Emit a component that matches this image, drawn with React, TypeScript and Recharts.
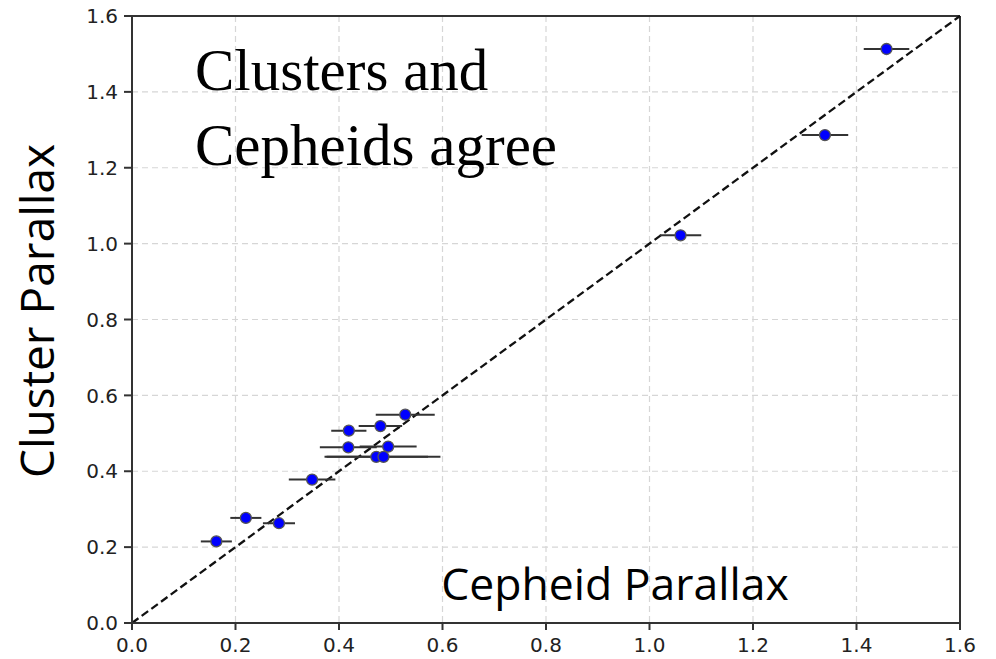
import React from 'react';
import {
  ScatterChart,
  Scatter,
  XAxis,
  YAxis,
  CartesianGrid,
  ReferenceLine,
  ErrorBar,
} from 'recharts';

const cepheidParallax = [0.163, 0.22, 0.284, 0.348, 0.419, 0.48, 0.528, 0.418, 0.495, 0.472, 0.486, 1.06, 1.339, 1.458];
const clusterParallax = [0.215, 0.277, 0.263, 0.378, 0.507, 0.519, 0.549, 0.463, 0.465, 0.438, 0.438, 1.022, 1.286, 1.513];
const cepheidError = [0.03, 0.03, 0.031, 0.045, 0.034, 0.042, 0.057, 0.055, 0.055, 0.1, 0.11, 0.04, 0.045, 0.044];
const axisTicks = [0, 0.2, 0.4, 0.6, 0.8, 1.0, 1.2, 1.4, 1.6];

const data = cepheidParallax.map((x, i) => ({ x, y: clusterParallax[i], err: cepheidError[i] }));

const Dot = (props: any) => {
  const { cx, cy } = props;
  if (cx == null || cy == null) return null;
  return <circle cx={cx} cy={cy} r={5.5} fill="#0000ff" stroke="#555" strokeWidth={1.3} />;
};

const XTick = (props: any) => {
  const { x, y, payload } = props;
  return (
    <text x={x} y={y} dy="0.74em" textAnchor="middle" style={{ fontFamily: 'DejaVu Sans', fontSize: '20px' }} fill="#222">
      {Number(payload.value).toFixed(1)}
    </text>
  );
};

const YTick = (props: any) => {
  const { x, y, payload } = props;
  return (
    <text x={x} y={y} dy="0.36em" textAnchor="end" style={{ fontFamily: 'DejaVu Sans', fontSize: '20px' }} fill="#222">
      {Number(payload.value).toFixed(1)}
    </text>
  );
};

export default function App() {
  return (
    <div style={{ position: 'absolute', left: 0, top: 0, width: 996, height: 659, background: '#fff' }}>
      <ScatterChart width={996} height={659} margin={{ top: 16, right: 36, bottom: 0, left: 0 }}>
        <CartesianGrid stroke="#d6d6d6" strokeDasharray="6 4" strokeWidth={1.2} />
        <XAxis
          type="number"
          dataKey="x"
          domain={[0, 1.6]}
          ticks={axisTicks}
          height={36}
          tickSize={7}
          tickMargin={7}
          tick={<XTick />}
          stroke="#333"
          strokeWidth={2}
          allowDataOverflow
        />
        <YAxis
          type="number"
          dataKey="y"
          domain={[0, 1.6]}
          ticks={axisTicks}
          width={132}
          tickSize={8}
          tickMargin={6}
          tick={<YTick />}
          stroke="#333"
          strokeWidth={2}
          allowDataOverflow
        />
        <ReferenceLine y={1.6} stroke="#333" strokeWidth={2} />
        <ReferenceLine x={1.6} stroke="#333" strokeWidth={2} />
        <ReferenceLine
          segment={[{ x: 0, y: 0 }, { x: 1.6, y: 1.6 }]}
          stroke="#111"
          strokeWidth={2.3}
          strokeDasharray="8 4"
        />
        <Scatter data={data} shape={Dot} isAnimationActive={false}>
          <ErrorBar dataKey="err" direction="x" width={0} stroke="#333" strokeWidth={2} isAnimationActive={false} />
        </Scatter>
      </ScatterChart>
      <svg
        width={996}
        height={659}
        style={{ position: 'absolute', left: 0, top: 0, pointerEvents: 'none' }}
      >
        <text x={195} y={90} fontFamily="Liberation Serif" fontSize={59} fill="#000">
          Clusters and
        </text>
        <text x={195} y={165} fontFamily="Liberation Serif" fontSize={59} fill="#000">
          Cepheids agree
        </text>
        <text x={615} y={600} textAnchor="middle" fontFamily="Open Sans" fontSize={44.5} fill="#000">
          Cepheid Parallax
        </text>
        <text
          x={54}
          y={311}
          textAnchor="middle"
          transform="rotate(-90 54 311)"
          fontFamily="Open Sans"
          fontSize={46}
          fill="#000"
        >
          Cluster Parallax
        </text>
      </svg>
    </div>
  );
}
